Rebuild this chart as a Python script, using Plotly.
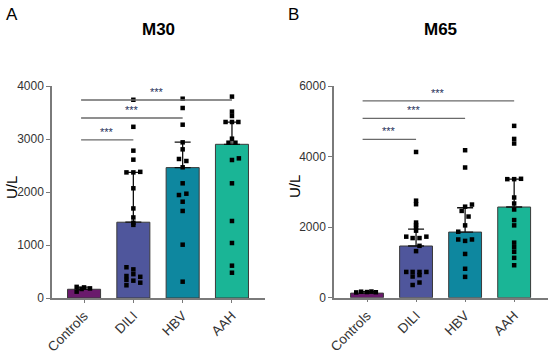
import plotly.graph_objects as go

categories = ["Controls", "DILI", "HBV", "AAH"]
bar_colors = ["#6A1A6C", "#4F569C", "#0E879F", "#1AB596"]

# ---- Panel A: M30 ----
m30_mean = [165, 1430, 2460, 2900]
m30_sd = [40, 940, 480, 420]
m30_ctrl = [210, 120, 200, 180, 170]
m30_dili = [3740, 3230, 2780, 2610, 2370, 2370, 2380, 2070, 1690, 1520, 1420, 1380,
            580, 540, 450, 415, 400, 340, 327, 289, 240]
m30_hbv = [3760, 3585, 3270, 2937, 2805, 2623, 2585, 2466, 2164, 1943, 1968, 1817, 1642, 1006, 308]
m30_aah = [3800, 3516, 3434, 3321, 3321, 3321, 3006, 2930, 2930, 2604, 2635, 2164, 1453, 1038, 610, 477]
m30_ctrl_off = [-0.15, -0.15, 0.0, 0.12, -0.05]
m30_dili_off = [0, 0, 0, 0, -0.14, 0, 0.14, 0, 0, 0, 0, 0,
                -0.14, 0, 0, -0.14, 0.14, -0.14, 0, 0.14, -0.14]
m30_hbv_off = [0, 0, 0, 0, 0, -0.075, 0.075, 0, 0, -0.075, 0.075, 0, 0, 0, 0]
m30_aah_off = [0, 0, 0, -0.13, 0, 0.13, 0, -0.07, 0.07, 0, 0.14, 0, 0, 0, 0, 0]
m30_sig_y = [2985, 3396, 3736]
m30_ticks = [0, 1000, 2000, 3000, 4000]

# ---- Panel B: M65 ----
m65_mean = [130, 1465, 1860, 2570]
m65_sd = [40, 480, 690, 790]
m65_ctrl = [150, 170, 160, 175, 155]
m65_dili = [4130, 2750, 2650, 2130, 2060, 1990, 1900, 1730, 1730, 1690, 1690, 1470, 1320,
            730, 730, 730, 730, 640, 600, 430, 360]
m65_hbv = [4180, 3690, 2640, 2580, 2460, 2300, 2050, 1870, 1650, 1650, 1610, 1240, 820, 590]
m65_aah = [4870, 4500, 4370, 3360, 3360, 3370, 2840, 2670, 2500, 2200, 2050, 1560, 1430, 1300, 1130, 920]
m65_ctrl_off = [-0.22, -0.12, 0.0, 0.09, 0.18]
m65_dili_off = [0, 0, 0, 0, 0, 0, 0, -0.2, 0.21, -0.07, 0.07, 0.07, 0,
                -0.2, -0.07, 0.07, 0.21, 0.07, -0.07, 0.07, -0.07]
m65_hbv_off = [0, 0, 0.14, 0, -0.07, 0.07, 0, -0.14, -0.14, 0.14, 0, 0, 0, 0]
m65_aah_off = [0, 0, 0, -0.14, 0, 0.14, 0, 0, 0, 0, 0, 0, 0, 0, 0, 0]
m65_sig_y = [4487, 5082, 5581]
m65_ticks = [0, 2000, 4000, 6000]

FONT = "Arial, Liberation Sans, sans-serif"
AX_COL = "#7a7a7a"
TXT_COL = "#333333"

fig = go.Figure()


def add_panel(xa, ya, means, sds, groups, offsets, sig_y, sig_x0):
    xref = "x" if xa == "xaxis" else "x2"
    yref = "y" if ya == "yaxis" else "y2"
    fig.add_trace(go.Bar(
        x=list(range(len(categories))), y=means, width=0.67,
        marker=dict(color=bar_colors, line=dict(color="#3a3a3a", width=1)),
        error_y=dict(type="data", array=sds, arrayminus=[0] * len(sds), symmetric=False,
                     color="#111111", thickness=1.3, width=8),
        xaxis=xref, yaxis=yref, showlegend=False, hoverinfo="skip"))
    for i, (vals, offs) in enumerate(zip(groups, offsets)):
        fig.add_trace(go.Scatter(
            x=[i + o for o in offs], y=vals, mode="markers",
            marker=dict(symbol="square", size=4.5, color="#000000"),
            xaxis=xref, yaxis=yref, showlegend=False, cliponaxis=False, hoverinfo="skip"))
    for k, yv in enumerate(sig_y):
        x1 = k + 1
        fig.add_shape(type="line", xref=xref, yref=yref, x0=sig_x0, x1=x1, y0=yv, y1=yv,
                      line=dict(color="#6a6a6a", width=1.3))
        fig.add_annotation(xref=xref, yref=yref, x=(sig_x0 + x1) / 2, y=yv, text="***",
                           showarrow=False, yanchor="bottom", yshift=0,
                           font=dict(family=FONT, size=11, color="#1f2f5a"))


add_panel("xaxis", "yaxis", m30_mean, m30_sd, [m30_ctrl, m30_dili, m30_hbv, m30_aah],
          [m30_ctrl_off, m30_dili_off, m30_hbv_off, m30_aah_off], m30_sig_y, -0.06)
add_panel("xaxis2", "yaxis2", m65_mean, m65_sd, [m65_ctrl, m65_dili, m65_hbv, m65_aah],
          [m65_ctrl_off, m65_dili_off, m65_hbv_off, m65_aah_off], m65_sig_y, -0.09)

xcommon = dict(tickmode="array", tickvals=list(range(len(categories))), ticktext=categories,
               tickangle=-45, tickfont=dict(family=FONT, size=13.5, color=TXT_COL),
               showline=True, linecolor=AX_COL, linewidth=1.5, ticks="outside", ticklen=3,
               tickcolor=AX_COL, showgrid=False, zeroline=False, automargin=False)
ycommon = dict(showline=True, linecolor=AX_COL, linewidth=1.5, ticks="outside", ticklen=4,
               tickcolor=AX_COL, tickfont=dict(family=FONT, size=12, color=TXT_COL),
               showgrid=False, zeroline=False, tickmode="array", automargin=False)

fig.update_layout(
    template="none",
    width=550, height=355, autosize=False, margin=dict(l=0, r=0, t=0, b=0, pad=0),
    paper_bgcolor="white", plot_bgcolor="white", showlegend=False,
    xaxis=dict(domain=[52 / 550, 265 / 550], range=[-0.65, 3.67], anchor="y", **xcommon),
    yaxis=dict(domain=[1 - 298 / 355, 1 - 86 / 355], range=[0, 4000], anchor="x",
               tickvals=m30_ticks, ticktext=[str(t) for t in m30_ticks], **ycommon),
    xaxis2=dict(domain=[334 / 550, 548 / 550], range=[-0.673, 3.69], anchor="y2", **xcommon),
    yaxis2=dict(domain=[1 - 297.7 / 355, 1 - 86 / 355], range=[0, 6000], anchor="x2",
                tickvals=m65_ticks, ticktext=[str(t) for t in m65_ticks], **ycommon),
)


def ann(px, py, text, size, bold=False, angle=0, xanchor="center"):
    fig.add_annotation(xref="paper", yref="paper", x=px / 550, y=1 - py / 355,
                       text=f"<b>{text}</b>" if bold else text, showarrow=False,
                       xanchor=xanchor, yanchor="middle", textangle=angle,
                       font=dict(family=FONT, size=size, color="#000000"))


ann(4, 15, "A", 17, xanchor="left")
ann(286, 15, "B", 17, xanchor="left")
ann(158, 29, "M30", 17, bold=True)
ann(441, 29, "M65", 17, bold=True)
ann(11, 188, "U/L", 15, angle=-90)
ann(294, 187, "U/L", 15, angle=-90)

fig.write_html("out.html", config={"displayModeBar": False},
               post_script="document.body.style.margin='0px';")
